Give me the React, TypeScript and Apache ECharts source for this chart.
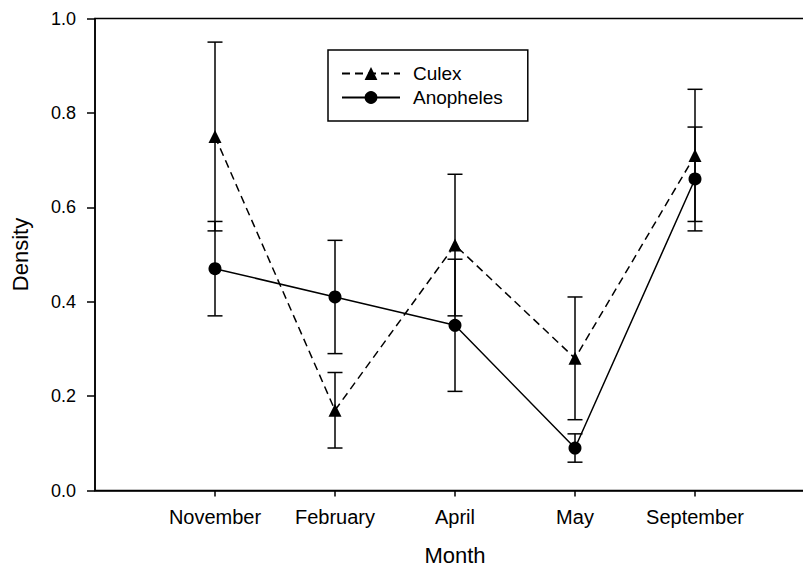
import React, { useEffect, useRef } from "react";
import * as echarts from "echarts";

const months = ["November", "February", "April", "May", "September"];
const culexMean = [0.75, 0.17, 0.52, 0.28, 0.71];
const culexLow = [0.55, 0.09, 0.37, 0.15, 0.57];
const culexHigh = [0.95, 0.25, 0.67, 0.41, 0.85];
const anophMean = [0.47, 0.41, 0.35, 0.09, 0.66];
const anophLow = [0.37, 0.29, 0.21, 0.06, 0.55];
const anophHigh = [0.57, 0.53, 0.49, 0.12, 0.77];

const FONT = "'Liberation Sans', Arial, sans-serif";

export default function App() {
  const ref = useRef<HTMLDivElement>(null);
  useEffect(() => {
    if (!ref.current) return;
    const chart = echarts.init(ref.current, null, { renderer: "svg" });
    const pos = months.map((_, i) => i + 1);
    const errRender = (params: any, api: any) => {
      const x = api.value(0);
      const lo = api.coord([x, api.value(1)]);
      const hi = api.coord([x, api.value(2)]);
      const hw = 7.5;
      const st = { stroke: "#000", lineWidth: 1.5 };
      return {
        type: "group",
        children: [
          { type: "line", shape: { x1: lo[0], y1: lo[1], x2: hi[0], y2: hi[1] }, style: st },
          { type: "line", shape: { x1: lo[0] - hw, y1: lo[1], x2: lo[0] + hw, y2: lo[1] }, style: st },
          { type: "line", shape: { x1: hi[0] - hw, y1: hi[1], x2: hi[0] + hw, y2: hi[1] }, style: st },
        ],
      };
    };
    chart.setOption({
      animation: false,
      backgroundColor: "#fff",
      textStyle: { fontFamily: FONT },
      grid: {
        left: 95,
        top: 18.5,
        width: 720,
        height: 472,
        outerBoundsMode: "none",
        containLabel: false,
        show: true,
        borderColor: "#000",
        borderWidth: 1.5,
      },
      legend: {
        data: ["Culex", "Anopheles"],
        orient: "vertical",
        left: 328,
        top: 50,
        padding: [14, 25, 14, 13],
        borderColor: "#000",
        borderWidth: 1.5,
        itemWidth: 58,
        itemHeight: 16,
        itemGap: 5,
        textStyle: { fontSize: 19, color: "#000", fontFamily: FONT, padding: [0, 0, 0, 8] },
      },
      xAxis: {
        type: "value",
        min: 0,
        max: 6,
        interval: 1,
        splitLine: { show: false },
        axisLine: { lineStyle: { color: "#000", width: 1.5 } },
        axisTick: { customValues: pos, length: 6, lineStyle: { color: "#000", width: 1.5 } },
        axisLabel: {
          customValues: pos,
          formatter: (v: number) => months[Math.round(v) - 1] ?? "",
          color: "#000",
          fontSize: 20,
          margin: 16,
          fontFamily: FONT,
        },
        name: "Month",
        nameLocation: "middle",
        nameGap: 54,
        nameTextStyle: { fontSize: 22, color: "#000", fontFamily: FONT },
      },
      yAxis: {
        type: "value",
        min: 0,
        max: 1,
        interval: 0.2,
        splitLine: { show: false },
        axisLine: { show: true, lineStyle: { color: "#000", width: 1.5 } },
        axisTick: { show: true, length: 8, lineStyle: { color: "#000", width: 1.5 } },
        axisLabel: {
          formatter: (v: number) => v.toFixed(1),
          color: "#000",
          fontSize: 18,
          margin: 19,
          fontFamily: FONT,
        },
        name: "Density",
        nameLocation: "middle",
        nameGap: 64,
        nameTextStyle: { fontSize: 22, color: "#000", fontFamily: FONT },
      },
      series: [
        {
          type: "custom",
          name: "culexErr",
          renderItem: errRender,
          data: pos.map((p, i) => [p, culexLow[i], culexHigh[i]]),
          z: 1,
        },
        {
          type: "custom",
          name: "anophErr",
          renderItem: errRender,
          data: pos.map((p, i) => [p, anophLow[i], anophHigh[i]]),
          z: 1,
        },
        {
          type: "line",
          name: "Culex",
          data: pos.map((p, i) => [p, culexMean[i]]),
          symbol: "triangle",
          symbolSize: 13,
          itemStyle: { color: "#000" },
          lineStyle: { color: "#000", width: 1.5, type: [8, 5] },
          z: 3,
        },
        {
          type: "line",
          name: "Anopheles",
          data: pos.map((p, i) => [p, anophMean[i]]),
          symbol: "circle",
          symbolSize: 13,
          itemStyle: { color: "#000" },
          lineStyle: { color: "#000", width: 1.5 },
          z: 3,
        },
      ],
    });
    return () => chart.dispose();
  }, []);
  return (
    <div style={{ position: "fixed", left: 0, top: 0, width: 803, height: 567, overflow: "hidden", background: "#fff" }}>
      <div ref={ref} style={{ width: 840, height: 567 }} />
    </div>
  );
}
